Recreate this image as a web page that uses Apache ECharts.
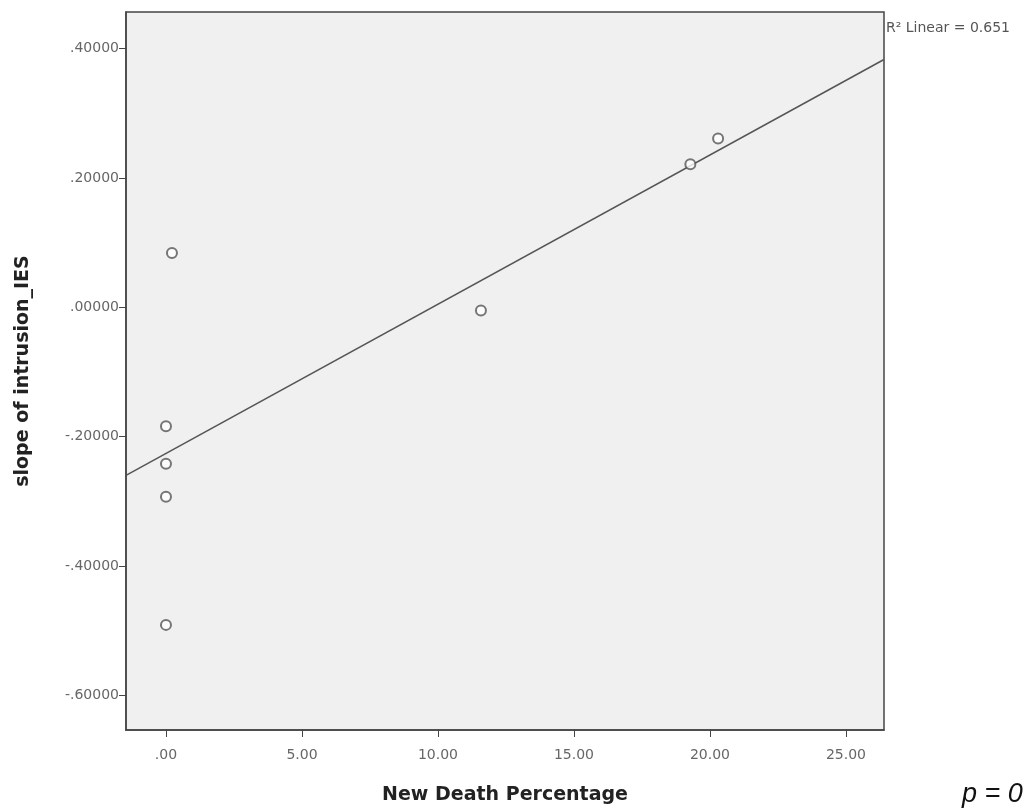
<!DOCTYPE html>
<html>
<head>
<meta charset="utf-8">
<script src="https://cdn.jsdelivr.net/npm/echarts@6/dist/echarts.min.js"></script>
<style>
  html, body { margin: 0; padding: 0; background: #fff; }
  #chart { width: 1029px; height: 810px; }
</style>
</head>
<body>
<div id="chart"></div>
<script>
// points
var deathPct = [0.22, 0, 0, 0, 0, 11.58, 19.28, 20.3];
var slopeIES = [0.084, -0.184, -0.242, -0.293, -0.491, -0.005, 0.221, 0.261];
// fit line end points
var fitX = [-1.47, 26.4];
var fitY = [-0.26, 0.383];
var xTicks = [0, 5, 10, 15, 20, 25];
var yTicks = [-0.6, -0.4, -0.2, 0, 0.2, 0.4];

var points = deathPct.map(function (x, i) { return [x, slopeIES[i]]; });
var fitLine = fitX.map(function (x, i) { return [x, fitY[i]]; });

var myChart = echarts.init(document.getElementById("chart"));
var axisColor = "#444";
var labelColor = "#666";

var option = {
  backgroundColor: "#fff",
  animation: false,
  grid: {
    left: 126,
    right: 145,
    top: 12,
    bottom: 77,
    show: true,
    backgroundColor: "#f0f0f0",
    borderColor: axisColor,
    borderWidth: 1.5,
  },
  xAxis: {
    type: "value",
    min: -1.47,
    max: 26.4,
    name: "New Death Percentage",
    nameLocation: "middle",
    nameGap: 56,
    nameTextStyle: {
      fontFamily: "DejaVu Sans",
      fontWeight: "bold",
      fontSize: 19,
      color: "#222",
    },
    axisLine: { show: true, onZero: false, lineStyle: { color: axisColor, width: 1.5 } },
    axisTick: {
      show: true,
      length: 7,
      customValues: xTicks,
      lineStyle: { color: axisColor },
    },
    axisLabel: {
      customValues: xTicks,
      margin: 18,
      color: labelColor,
      fontFamily: "DejaVu Sans",
      fontSize: 14,
      formatter: function (v) {
        return v === 0 ? ".00" : v.toFixed(2);
      },
    },
    splitLine: { show: false },
  },
  yAxis: {
    type: "value",
    min: -0.6535,
    max: 0.4564,
    name: "slope of intrusion_IES",
    nameLocation: "middle",
    nameRotate: 90,
    nameGap: 93,
    nameTextStyle: {
      fontFamily: "DejaVu Sans",
      fontWeight: "bold",
      fontSize: 19,
      color: "#222",
    },
    axisLine: { show: true, onZero: false, lineStyle: { color: axisColor, width: 1.5 } },
    axisTick: {
      show: true,
      length: 7,
      customValues: yTicks,
      lineStyle: { color: axisColor },
    },
    axisLabel: {
      customValues: yTicks,
      margin: 7,
      color: labelColor,
      fontFamily: "DejaVu Sans",
      fontSize: 14,
      formatter: function (v) {
        return v.toFixed(5).replace("0.", ".");
      },
    },
    splitLine: { show: false },
  },
  graphic: [
    {
      type: "text",
      left: 886,
      top: 21,
      style: {
        text: "R² Linear = 0.651",
        fill: "#555",
        font: "14px 'DejaVu Sans'",
      },
    },
    {
      type: "text",
      left: 962,
      top: 781,
      style: {
        text: "p = 0",
        fill: "#111",
        font: "italic 27px 'Liberation Sans'",
      },
    },
  ],
  series: [
    {
      name: "fit",
      type: "line",
      data: fitLine,
      showSymbol: false,
      lineStyle: { color: "#555", width: 1.5 },
      silent: true,
      z: 1,
    },
    {
      name: "points",
      type: "scatter",
      data: points,
      symbol: "emptyCircle",
      symbolSize: 10,
      itemStyle: { color: "#555", borderWidth: 1.5 },
      z: 2,
    },
  ],
};
myChart.setOption(option);
</script>
</body>
</html>
